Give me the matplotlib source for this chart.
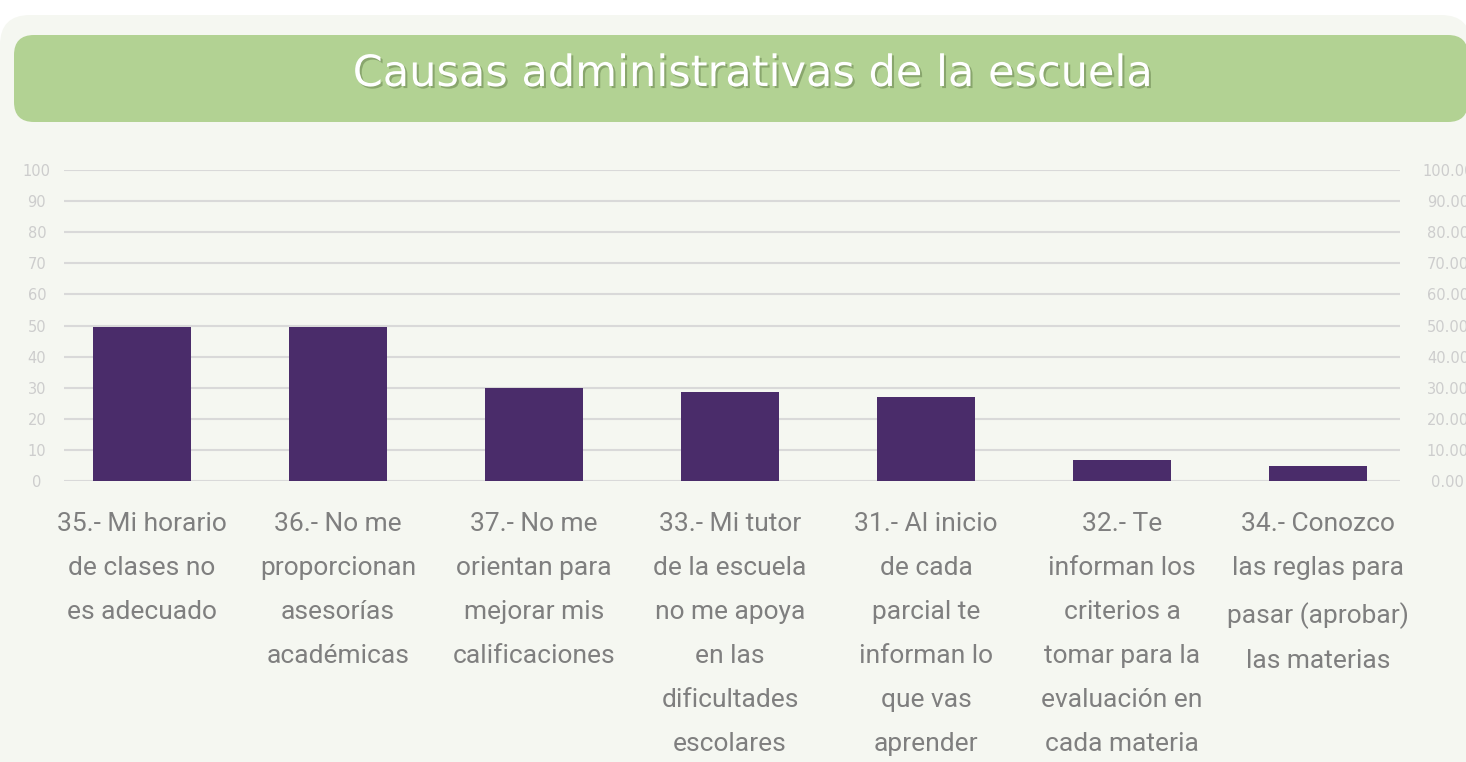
import matplotlib.pyplot as plt
import matplotlib.patheffects as pe
from matplotlib.patches import FancyBboxPatch

# data
categories = [
    "35.- Mi horario\nde clases no\nes adecuado",
    "36.- No me\nproporcionan\nasesorías\nacadémicas",
    "37.- No me\norientan para\nmejorar mis\ncalificaciones",
    "33.- Mi tutor\nde la escuela\nno me apoya\nen las\ndificultades\nescolares",
    "31.- Al inicio\nde cada\nparcial te\ninforman lo\nque vas\naprender",
    "32.- Te\ninforman los\ncriterios a\ntomar para la\nevaluación en\ncada materia",
    "34.- Conozco\nlas reglas para\npasar (aprobar)\nlas materias",
]
values = [49.6, 49.6, 30.0, 28.6, 27.1, 6.6, 4.7]
yticks = [0, 10, 20, 30, 40, 50, 60, 70, 80, 90, 100]
left_labels = [str(t) for t in yticks]
right_labels = ["{:.2f}".format(t) for t in yticks]

title = "Causas administrativas de la escuela"

W, H = 14.66, 7.62
fig = plt.figure(figsize=(W, H), dpi=100, facecolor="white")

# background panel and green banner (in inches)
panel = FancyBboxPatch((0.0, -0.5), W + 0.05, H - 0.15 + 0.5,
                       boxstyle="round,pad=0,rounding_size=0.3",
                       transform=fig.dpi_scale_trans, facecolor="#f5f7f1",
                       edgecolor="none", zorder=0)
fig.add_artist(panel)
banner = FancyBboxPatch((0.14, H - 1.22), W - 0.12, 0.87,
                        boxstyle="round,pad=0,rounding_size=0.2",
                        transform=fig.dpi_scale_trans, facecolor="#b2d293",
                        edgecolor="none", zorder=1)
fig.add_artist(banner)

fig.text(0.513, 1 - 74 / 762, title, ha="center", va="center",
         fontsize=31, color="white", family="DejaVu Sans", zorder=3,
         path_effects=[pe.withSimplePatchShadow(offset=(1.5, -1.5),
                                                shadow_rgbFace="#6f8a55",
                                                alpha=0.6)])

ax = fig.add_axes([64 / 1466, 1 - 481 / 762, (1400 - 64) / 1466, (481 - 170) / 762])
ax.set_facecolor("none")
x = list(range(len(values)))
ax.bar(x, values, width=0.5, color="#4a2c6a", zorder=3)
ax.set_xlim(-0.398, 6.418)
ax.set_ylim(0, 100)

for s in ax.spines.values():
    s.set_visible(False)
ax.yaxis.grid(True, color="#d9d9d9", linewidth=1.5, zorder=0)
ax.set_axisbelow(True)

ax.set_yticks(yticks)
ax.set_yticklabels(left_labels)
ax.tick_params(axis="y", length=0, pad=19.5, labelsize=10.5, labelcolor="#cdcdcd")
for lab in ax.get_yticklabels():
    lab.set_ha("center")

ax.set_xticks(x)
ax.set_xticklabels(categories, family="Roboto", fontsize=19, color="#7f7f7f",
                   linespacing=2.05)
ax.tick_params(axis="x", length=0, pad=22.5)

ax2 = ax.twinx()
ax2.set_ylim(0, 100)
for s in ax2.spines.values():
    s.set_visible(False)
ax2.set_yticks(yticks)
ax2.set_yticklabels(right_labels)
ax2.tick_params(axis="y", length=0, pad=34.5, labelsize=10.5, labelcolor="#cdcdcd")
for lab in ax2.get_yticklabels():
    lab.set_ha("center")

fig.savefig("out.png", dpi=100, facecolor="white")
